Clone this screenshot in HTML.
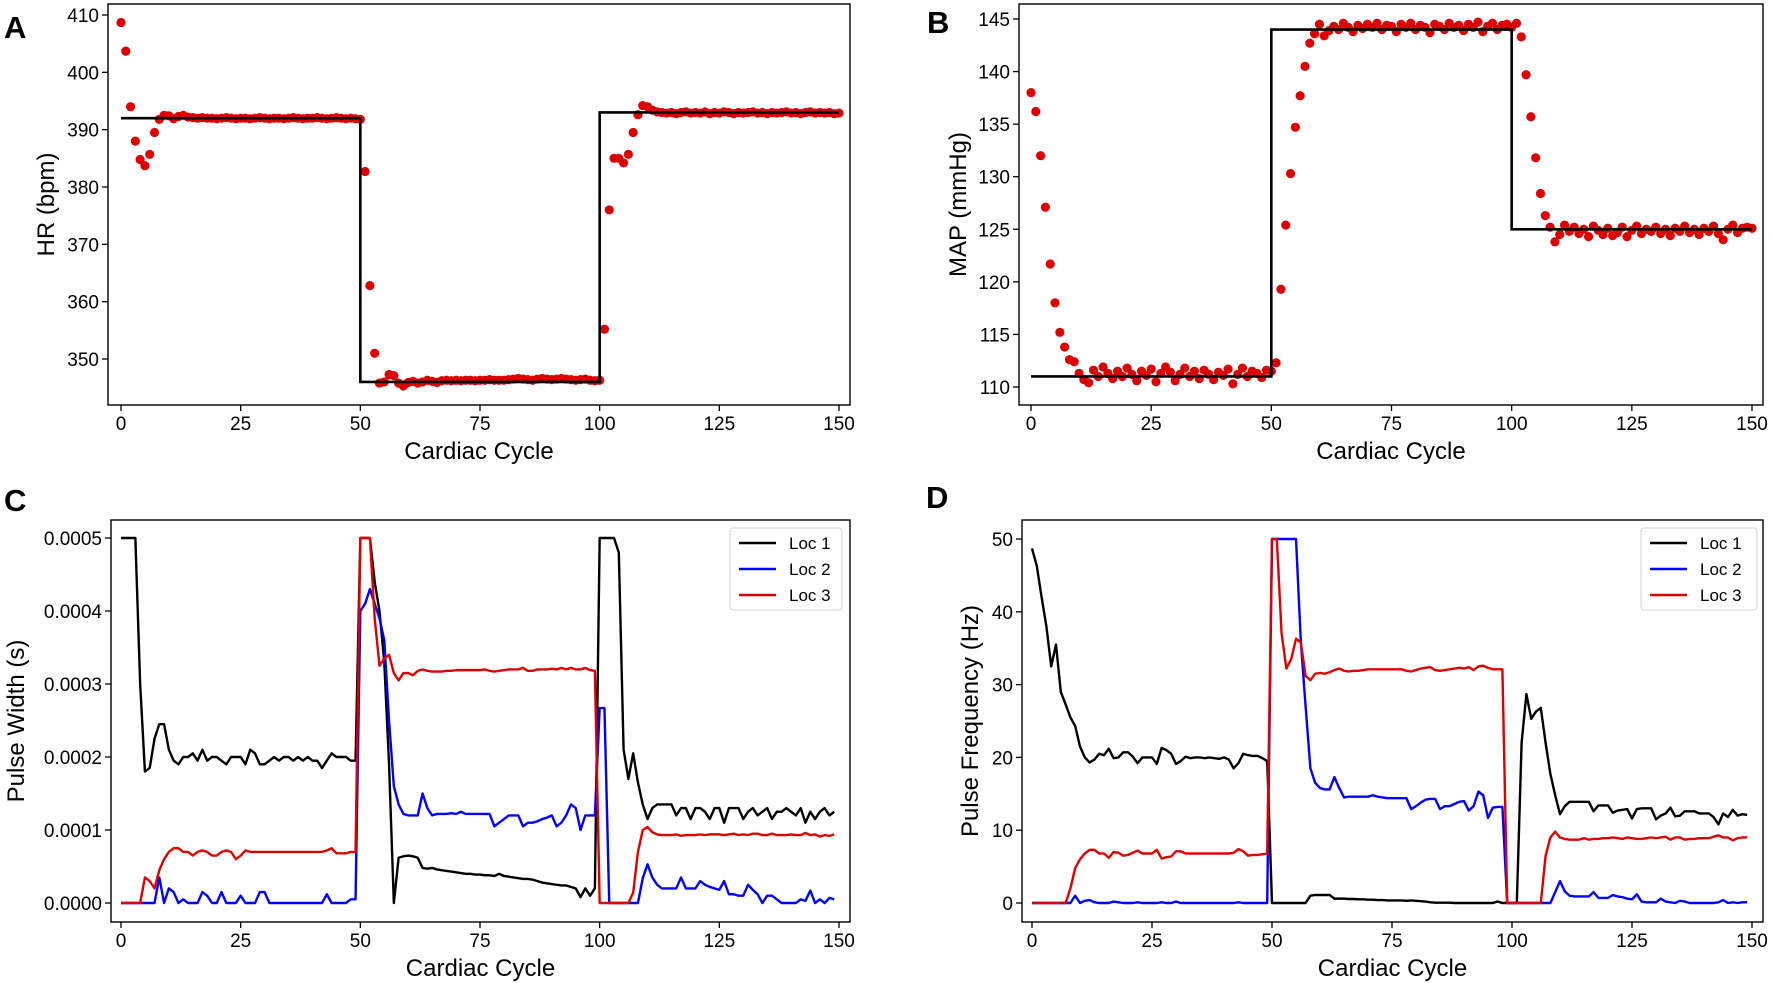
<!DOCTYPE html>
<html><head><meta charset="utf-8"><style>
html,body{margin:0;padding:0;background:#fff;}
svg{display:block;font-family:"Liberation Sans",sans-serif;}
</style></head><body>
<svg id="fig" width="1772" height="983" viewBox="0 0 1772 983" xmlns="http://www.w3.org/2000/svg"></svg>
<script>
const cycleTicks = [0,25,50,75,100,125,150];
const hrTicks = [350,360,370,380,390,400,410];
const mapTicks = [110,115,120,125,130,135,140,145];
const pwTicks = [0,1,2,3,4,5];
const pwTickLabels = ["0.0000","0.0001","0.0002","0.0003","0.0004","0.0005"];
const pfTicks = [0,10,20,30,40,50];
const seriesNames = ["Loc 1","Loc 2","Loc 3"];

const hrValues = [408.7,403.7,394.0,388.0,384.8,383.7,385.7,389.5,391.8,392.5,
392.4,391.9,392.3,392.5,392.2,392.1,392.0,392.1,392.0,392.0,
391.9,392.0,392.1,392.0,391.9,392.0,392.0,391.9,392.0,392.1,
392.0,391.9,392.0,392.0,391.9,392.0,392.1,392.0,391.9,392.0,
392.0,392.1,392.0,391.9,392.0,392.1,392.0,391.9,392.0,391.9,
391.8,382.7,362.8,351.0,345.8,346.0,347.3,347.1,345.8,345.3,
345.9,346.1,345.8,346.0,346.3,346.1,345.9,346.2,346.3,346.2,
346.3,346.2,346.3,346.3,346.2,346.3,346.3,346.4,346.3,346.3,
346.3,346.4,346.5,346.6,346.5,346.4,346.3,346.5,346.6,346.5,
346.4,346.5,346.6,346.5,346.4,346.3,346.4,346.5,346.3,346.2,
346.3,355.2,376.0,385.0,385.0,384.2,385.7,389.5,392.6,394.2,
394.0,393.4,393.1,393.0,392.9,393.0,392.8,393.0,393.1,392.9,
393.0,392.9,393.1,392.8,393.0,392.9,393.1,393.0,392.8,393.0,
392.9,393.0,393.1,392.9,393.0,392.8,393.0,392.9,393.0,393.1,
392.9,393.0,392.8,393.0,393.1,392.9,393.0,392.9,393.0,392.8,392.9];
const hrTargetLevels = [392,346,393];
const mapValues = [138.0,136.2,132.0,127.1,121.7,118.0,115.2,113.8,112.6,112.4,
111.3,110.7,110.4,111.6,111.0,111.9,111.3,110.8,111.5,111.0,
111.8,111.2,110.6,111.5,111.1,111.7,110.5,111.3,111.9,111.4,
110.6,111.2,111.8,111.0,111.5,110.8,111.6,111.2,110.7,111.4,
111.1,111.7,110.3,111.2,111.8,111.0,111.5,111.3,110.9,111.6,
111.5,112.3,119.3,125.4,130.3,134.7,137.7,140.5,142.7,143.6,
144.5,143.4,143.9,144.3,144.0,144.6,144.2,143.8,144.4,144.1,
144.5,144.2,144.6,144.0,144.4,144.3,143.8,144.5,144.2,144.6,
144.0,144.4,144.2,143.7,144.5,144.3,144.0,144.6,144.2,144.4,
143.9,144.5,144.2,144.7,143.8,144.3,144.6,144.0,144.4,144.5,
144.2,144.6,143.3,139.7,135.7,131.8,128.4,126.3,125.2,123.8,
124.5,125.4,124.8,125.2,124.6,125.0,124.3,125.3,124.9,124.5,
125.1,124.4,124.7,125.2,124.3,124.9,125.3,124.6,125.0,124.8,
125.2,124.6,125.0,124.4,125.1,124.8,125.3,124.7,125.0,124.5,
125.1,124.8,125.3,124.6,124.0,125.0,125.4,124.7,125.1,125.2,125.1];
const mapTargetLevels = [111,144,125];
const stepBreaks = [0,50,100,150];

// pulse width in units of 1e-4 s
const pwLoc1 = [5,5,5,5,3.0,1.8,1.85,2.25,2.45,2.45,
2.1,1.95,1.9,2.0,2.0,2.05,1.95,2.1,1.95,2.0,
2.0,1.95,1.9,2.0,2.0,2.0,1.9,2.1,2.05,1.9,
1.9,1.95,2.0,1.95,2.0,2.0,1.95,2.0,1.95,2.0,
1.95,1.95,1.85,1.95,2.05,2.0,2.0,2.0,1.95,1.95,
5,5,5,4.4,4.0,3.3,1.9,0,0.62,0.64,
0.65,0.64,0.62,0.48,0.47,0.48,0.46,0.45,0.44,0.43,
0.42,0.41,0.40,0.40,0.39,0.39,0.38,0.38,0.37,0.40,
0.37,0.36,0.35,0.34,0.33,0.33,0.32,0.30,0.28,0.27,
0.26,0.25,0.24,0.24,0.22,0.20,0.08,0.20,0.10,0.20,
5,5,5,5,4.8,2.1,1.7,2.05,1.65,1.35,
1.15,1.3,1.35,1.35,1.35,1.35,1.2,1.3,1.3,1.15,
1.3,1.3,1.25,1.15,1.3,1.3,1.1,1.3,1.3,1.3,
1.15,1.25,1.3,1.2,1.25,1.3,1.15,1.25,1.25,1.3,
1.25,1.2,1.3,1.1,1.25,1.15,1.25,1.3,1.2,1.25];
const pwLoc2 = [0,0,0,0,0,0,0,0,0.35,0,
0.2,0.15,0,0.05,0,0,0,0.15,0.1,0,
0,0.15,0,0,0,0.1,0,0,0,0.15,
0.15,0,0,0,0,0,0,0,0,0,
0,0,0,0.12,0,0,0,0,0.05,0.05,
4.0,4.1,4.3,4.1,3.9,3.6,2.5,1.6,1.35,1.22,
1.2,1.2,1.2,1.5,1.3,1.2,1.22,1.22,1.22,1.23,
1.22,1.25,1.22,1.22,1.22,1.22,1.22,1.22,1.05,1.1,
1.15,1.2,1.2,1.2,1.05,1.1,1.1,1.12,1.15,1.17,
1.2,1.05,1.1,1.2,1.35,1.3,1.0,1.2,1.2,1.2,
2.67,2.67,0,0,0,0,0,0,0,0.34,
0.53,0.35,0.25,0.2,0.2,0.2,0.2,0.35,0.2,0.2,
0.2,0.3,0.25,0.22,0.2,0.18,0.3,0.12,0.12,0.1,
0.1,0.25,0.18,0.12,0.0,0.1,0.1,0.05,0.0,0.0,
0.0,0.0,0.05,0.03,0.17,0,0.05,0,0.07,0.05];
const pwLoc3 = [0,0,0,0,0,0.35,0.3,0.2,0.45,0.6,
0.7,0.75,0.75,0.7,0.7,0.65,0.7,0.72,0.7,0.65,
0.65,0.7,0.72,0.7,0.6,0.65,0.72,0.7,0.7,0.7,
0.7,0.7,0.7,0.7,0.7,0.7,0.7,0.7,0.7,0.7,
0.7,0.7,0.7,0.72,0.75,0.68,0.68,0.68,0.7,0.7,
5,5,5,3.9,3.25,3.35,3.4,3.15,3.05,3.15,
3.15,3.12,3.18,3.2,3.18,3.17,3.17,3.17,3.18,3.18,
3.19,3.19,3.19,3.19,3.19,3.19,3.2,3.18,3.17,3.18,
3.19,3.2,3.2,3.2,3.22,3.18,3.18,3.2,3.2,3.2,
3.21,3.2,3.22,3.2,3.22,3.2,3.2,3.22,3.19,3.18,
0,0,0,0,0,0,0,0.14,0.7,1.0,
1.04,0.97,0.94,0.93,0.93,0.93,0.94,0.92,0.93,0.93,
0.93,0.94,0.93,0.94,0.94,0.94,0.93,0.94,0.95,0.93,
0.94,0.93,0.95,0.95,0.93,0.93,0.95,0.93,0.93,0.93,
0.94,0.93,0.93,0.96,0.93,0.94,0.91,0.93,0.92,0.94];

const pfLoc1 = [48.7,46.3,42,38,32.5,35.5,29,27.3,25.5,24.3,
21.5,20,19.3,19.7,20.5,20.3,21.2,19.9,20,20.7,
20.7,20.1,19.2,20,20,20,19.1,21.3,21,20.5,
19.1,19.5,20.1,19.9,20,20,19.9,20,19.9,19.8,
20,19.7,18.5,19.2,20.5,20.3,20.2,20.2,19.9,19.5,
0,0,0,0,0,0,0,0,1.0,1.1,
1.1,1.1,1.1,0.6,0.6,0.6,0.55,0.55,0.5,0.5,
0.45,0.45,0.4,0.4,0.35,0.35,0.35,0.35,0.3,0.35,
0.3,0.25,0.2,0.1,0.05,0.05,0.05,0.05,0,0,
0,0,0,0,0,0,0,0.2,0,0,
0,0,22,28.7,25.3,26.3,26.8,22,17.7,14.8,
12.2,13.3,13.9,13.9,13.9,13.9,13.9,12.6,13.4,13.4,
13.4,12.4,12.7,12.8,12.9,11.6,12.9,13,13,13,
11.5,12,12.3,13.1,11.9,12,12.6,12.6,12.6,12.3,
12.3,12.3,11.8,10.8,12.3,11.8,12.8,12,12.2,12.1];
const pfLoc2 = [0,0,0,0,0,0,0,0,0,1.0,
0,0.3,0.4,0.1,0,0,0,0.2,0.1,0,
0,0,0.1,0,0,0,0,0.1,0,0,
0.2,0,0,0,0,0,0,0,0,0,
0,0,0,0.1,0,0,0,0,0,0,
50,50,50,50,50,50,36,27,18.5,16.5,
15.8,15.6,15.6,17.3,15.8,14.5,14.6,14.6,14.6,14.6,
14.6,14.8,14.6,14.5,14.4,14.4,14.4,14.4,14.4,12.9,
13.3,13.8,14.2,14.3,14.3,12.9,13.3,13.3,13.6,13.9,
14,12.7,13.3,15.3,14.8,11.7,13.1,13.2,13.2,0,
0,0,0,0,0,0,0,0,0,1.5,
3,1.6,1,0.9,0.9,0.9,0.9,1.5,0.7,0.7,
0.7,1.1,0.9,0.8,0.6,0.5,1.2,0.2,0.1,0.1,
0.1,0.6,0.2,0.1,0,0.3,0.2,0,0,0,
0,0,0,0.1,0.4,0,0.1,0,0.1,0.1];
const pfLoc3 = [0,0,0,0,0,0,0,0,2,4.8,
6,6.8,7.3,7.3,6.8,6.8,6.2,7,6.9,6.5,
6.6,6.9,7.2,6.8,6.8,6.8,7.3,6.1,6.3,6.4,
7.1,7.1,6.8,6.8,6.8,6.8,6.8,6.8,6.8,6.8,
6.8,6.8,6.9,7.4,7.1,6.5,6.6,6.6,6.7,6.8,
50,50,37,32.2,33.5,36.3,35.8,31.2,30.6,31.5,
31.6,31.5,31.7,32,32.2,31.9,31.8,31.9,31.9,32,
32.1,32.1,32.1,32.1,32.1,32.1,32.1,32.1,31.9,31.8,
32,32.2,32.3,32.4,32,31.9,32,32.1,32.2,32.3,
32.2,32.4,32,32.5,32.6,32.3,32.1,32.1,32.1,0,
0,0,0,0,0,0,0,6.5,9,9.8,
9,8.8,8.7,8.7,8.7,8.9,8.7,8.8,8.8,8.9,
8.9,9,8.9,8.8,9,8.9,8.8,8.8,8.9,9,
8.9,9,9.1,8.7,9,9,8.7,8.8,8.8,8.9,
8.9,8.9,9.1,9.3,9,9,8.6,8.9,9,9];

const NS = "http://www.w3.org/2000/svg";
const svg = document.getElementById("fig");
function el(tag, attrs, parent, text){
  const e = document.createElementNS(NS, tag);
  for (const k in attrs) e.setAttribute(k, attrs[k]);
  if (text !== undefined) e.textContent = text;
  (parent||svg).appendChild(e);
  return e;
}
function linScale(d0,d1,r0,r1){ return v => r0 + (v-d0)*(r1-r0)/(d1-d0); }

function panel(p){
  const g = el("g", {}, svg);
  
  
  const xs = linScale(0,150,p.x0,p.x150);
  const ys = linScale(p.yv0,p.yv1,p.yp0,p.yp1);
  const L = el("text",{x:p.lx,y:p.ly,"font-size":31,"font-weight":"bold",fill:"#000"},g,p.letter);
  
  
  const xt = el("g",{},g);
  
  
  cycleTicks.forEach(t=>{
    const x = xs(t);
    el("line",{x1:x,x2:x,y1:p.bottom,y2:p.bottom+6,stroke:"#000","stroke-width":1.3},xt);
    el("text",{x:x,y:p.bottom+25,"font-size":19,"text-anchor":"middle",fill:"#000"},xt,String(t));
  });
  const yt = el("g",{},g);
  
  
  p.yticks.forEach((t,i)=>{
    const y = ys(t);
    el("line",{x1:p.left-6,x2:p.left,y1:y,y2:y,stroke:"#000","stroke-width":1.3},yt);
    el("text",{x:p.left-9,y:y+7,"font-size":19,"text-anchor":"end",fill:"#000"},yt,p.ylabels?p.ylabels[i]:String(t));
  });
  const xl = el("text",{x:(p.left+p.right)/2,y:p.bottom+54,"font-size":24,"text-anchor":"middle",fill:"#000"},g,"Cardiac Cycle");
  
  
  const cy = (p.top+p.bottom)/2;
  const yl = el("text",{x:p.ylx,y:cy,"font-size":24,"text-anchor":"middle",fill:"#000",transform:`rotate(-90 ${p.ylx} ${cy})`},g,p.ytitle);
  
  
  const cid = "clip"+p.letter;
  const cp = el("clipPath",{id:cid},g);
  el("rect",{x:p.left,y:p.top,width:p.right-p.left,height:p.bottom-p.top},cp);
  const plot = el("g",{"clip-path":`url(#${cid})`},g);
  
  
  return {g,plot,xs,ys,p};
}
function frame(P){
  const f = el("rect",{x:P.p.left,y:P.p.top,width:P.p.right-P.p.left,height:P.p.bottom-P.p.top,fill:"none",stroke:"#000","stroke-width":1.4},P.g);
  
  
}
function scatterPanel(P, values, levels){
  let d = "";
  levels.forEach((lv,i)=>{
    const a = stepBreaks[i], b = stepBreaks[i+1];
    d += (i===0?"M":"L")+P.xs(a)+","+P.ys(lv)+" L"+P.xs(b)+","+P.ys(lv)+" ";
  });
  values.forEach((v,i)=>{
    const c = el("circle",{cx:P.xs(i),cy:P.ys(v),r:4.6,fill:"#dd0000"},P.plot);
    
    
  });
  const s = el("path",{d:d,fill:"none",stroke:"#000","stroke-width":2.6},P.plot);
  
  
}
function linePanel(P, series, colors){
  series.forEach((vals,k)=>{
    const d = vals.map((v,i)=>(i?"L":"M")+P.xs(i).toFixed(2)+","+P.ys(v).toFixed(2)).join(" ");
    const l = el("path",{d:d,fill:"none",stroke:colors[k],"stroke-width":2.4,"stroke-linejoin":"round"},P.plot);
    
    
  });
  const lx = P.p.legendX, ly = P.p.legendY;
  const lg = el("g",{},P.g);
  
  
  el("rect",{x:lx,y:ly,width:P.p.legendW,height:82,rx:3,fill:"#fff",stroke:"#d0d0d0","stroke-width":1},lg);
  seriesNames.forEach((n,k)=>{
    const e = el("g",{},lg);
    
    
    const y = ly+15+k*26;
    el("line",{x1:lx+9,x2:lx+46,y1:y,y2:y,stroke:colors[k],"stroke-width":2.4},e);
    el("text",{x:lx+59,y:y+6,"font-size":17,fill:"#000"},e,n);
  });
}

const A = panel({name:"panel-a-heart-rate",letter:"A",lx:4,ly:38,left:108,right:850,top:4,bottom:405,x0:121,x150:839,yv0:350,yv1:410,yp0:359,yp1:15,yticks:hrTicks,ytitle:"HR (bpm)",ylx:54});
scatterPanel(A, hrValues, hrTargetLevels); frame(A);
const B = panel({name:"panel-b-map",letter:"B",lx:927,ly:33,left:1019,right:1763,top:4,bottom:405,x0:1031,x150:1752,yv0:110,yv1:145,yp0:387,yp1:19,yticks:mapTicks,ytitle:"MAP (mmHg)",ylx:966});
scatterPanel(B, mapValues, mapTargetLevels); frame(B);
const C = panel({name:"panel-c-pulse-width",letter:"C",lx:4,ly:511,left:111,right:850,top:520,bottom:922,x0:121,x150:839,yv0:0,yv1:5,yp0:903,yp1:538,yticks:pwTicks,ylabels:pwTickLabels,ytitle:"Pulse Width (s)",ylx:24,legendX:730,legendY:528,legendW:112});
linePanel(C,[pwLoc1,pwLoc2,pwLoc3],["#000","#0000ff","#dd0000"]); frame(C);
const D = panel({name:"panel-d-pulse-frequency",letter:"D",lx:926,ly:508,left:1022,right:1763,top:520,bottom:922,x0:1032,x150:1752,yv0:0,yv1:50,yp0:903,yp1:539,yticks:pfTicks,ytitle:"Pulse Frequency (Hz)",ylx:978,legendX:1641,legendY:528,legendW:116});
linePanel(D,[pfLoc1,pfLoc2,pfLoc3],["#000","#0000ff","#dd0000"]); frame(D);
</script>
</body></html>
